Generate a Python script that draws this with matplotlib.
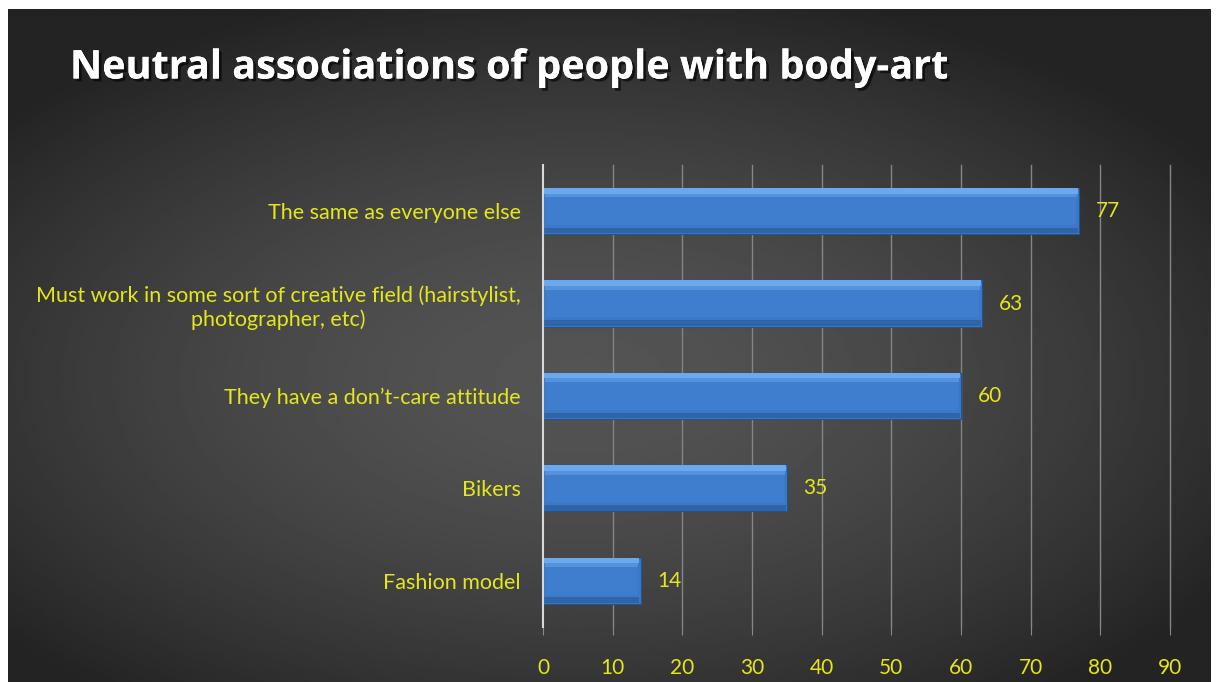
import numpy as np
import matplotlib
matplotlib.use("Agg")
import matplotlib.pyplot as plt
import matplotlib.patheffects as pe

plt.rcParams['font.family'] = ['Lato', 'DejaVu Sans']

categories = [
    "The same as everyone else",
    "Must work in some sort of creative field (hairstylist,\nphotographer, etc)",
    "They have a don\u2019t-care attitude",
    "Bikers",
    "Fashion model",
]
values = [77, 63, 60, 35, 14]
xticks = [0, 10, 20, 30, 40, 50, 60, 70, 80, 90]

yellow = "#e6e61c"

fig = plt.figure(figsize=(12.17, 6.82), dpi=100)
fig.patch.set_facecolor("white")

# background panel with radial gradient
bg = fig.add_axes([8 / 1217, 0, 1203 / 1217, 673 / 682])
gx, gy = np.meshgrid(np.linspace(-1, 1, 400), np.linspace(1, -1, 240))
r = np.sqrt(((gx + 0.05) * 0.85) ** 2 + ((gy + 0.1) * 0.9) ** 2)
shade = np.clip(0.33 - 0.17 * r ** 1.6, 0.14, 0.33)
bg.imshow(shade, cmap="gray", vmin=0, vmax=1, aspect="auto",
          extent=[0, 1, 0, 1])
bg.set_axis_off()

ax = fig.add_axes([543 / 1217, 1 - 627 / 682, (1170 - 543) / 1217, (627 - 165) / 682])
ax.set_facecolor("none")

y = np.arange(len(categories))
h = 0.5
vals = np.array(values)
ax.barh(y, vals, height=h, color="#3b78c6", edgecolor="#24548f", linewidth=0.8, zorder=3)
# bevel highlights / shading
ax.barh(y - h / 2 + 0.03, vals - 0.3, left=0.15, height=0.06, color="#6ba8ee", linewidth=0, zorder=4)
ax.barh(y - h / 2 + 0.08, vals - 0.6, left=0.3, height=0.04, color="#5592dc", linewidth=0, zorder=4)
ax.barh(y + h / 2 - 0.04, vals - 0.3, left=0.15, height=0.06, color="#2f64a8", linewidth=0, zorder=4)
ax.barh(y, vals - 0.9, left=0.45, height=h - 0.2, color="#3f7ecf", linewidth=0, zorder=4)

for yi, v in zip(y, values):
    ax.text(v + 2.4, yi, str(v), color=yellow, fontsize=15, va="center", ha="left")

ax.set_xlim(0, 90)
ax.set_ylim(len(categories) - 0.5, -0.5)
ax.set_xticks(xticks)
ax.set_xticklabels([str(t) for t in xticks], color=yellow, fontsize=15)
ax.set_yticks(y)
ax.set_yticklabels(categories, color=yellow, fontsize=15.5, multialignment="center")
ax.tick_params(axis="y", length=0, pad=16)
ax.tick_params(axis="x", length=6, color="#8a8a8a", pad=16, direction="out")
# vertical gridlines (drawn by hand so the one at 90 is not clipped)
for t in xticks[1:]:
    ax.axvline(t, color="#858585", linewidth=1, zorder=0, clip_on=False)
for s in ["top", "right", "bottom"]:
    ax.spines[s].set_visible(False)
ax.spines["left"].set_color("#d8d8d8")
ax.spines["left"].set_linewidth(1.5)
ax.spines["left"].set_zorder(5)

fig.text(70 / 1217, 1 - 68 / 682, "Neutral associations of people with body-art",
         color="white", fontsize=28.5, fontweight="bold", va="center", ha="left",
         family=["Open Sans", "DejaVu Sans"],
         path_effects=[pe.withSimplePatchShadow(offset=(2, -2), shadow_rgbFace="black", alpha=0.6), pe.Normal()])

fig.savefig("out.png", dpi=100, facecolor=fig.get_facecolor())
